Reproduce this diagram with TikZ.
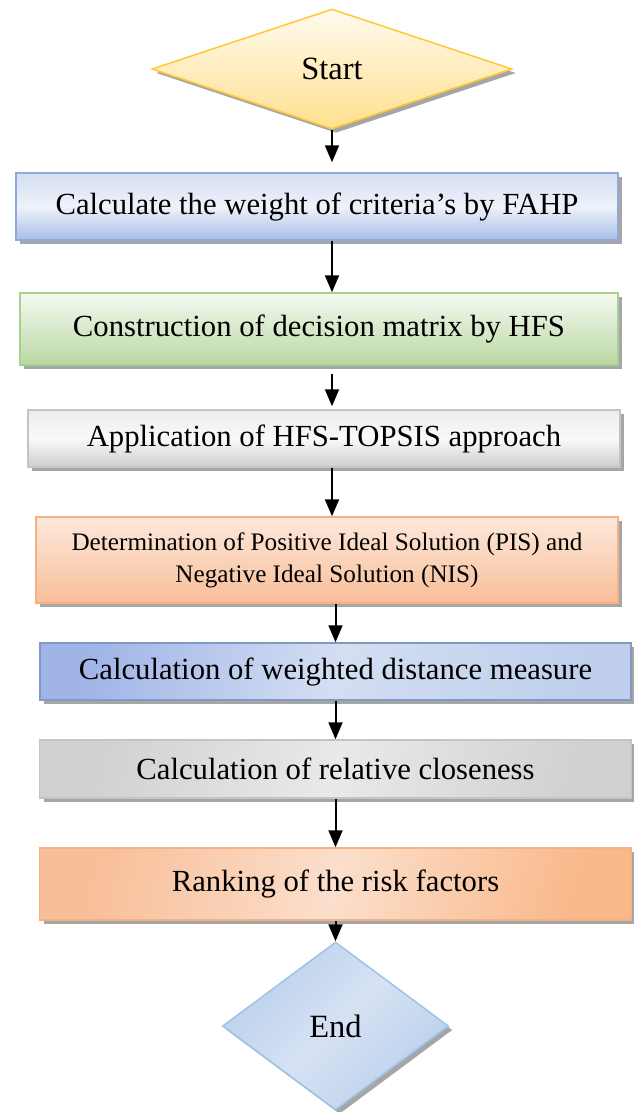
\documentclass[tikz,border=0pt]{standalone}
\usepackage{fontspec}
\setmainfont{Liberation Serif}
\usepackage{tikz}
\usetikzlibrary{positioning, shapes.geometric, shadows, arrows.meta}

\definecolor{startfill}{HTML}{FFE08F}
\definecolor{startline}{HTML}{FFC935}
\definecolor{bluefill}{HTML}{A9BEE6}
\definecolor{blueline}{HTML}{8EAADB}
\definecolor{greenfill}{HTML}{BAD8A3}
\definecolor{greenline}{HTML}{A9D18E}
\definecolor{greyfill}{HTML}{C8C8C8}
\definecolor{greyline}{HTML}{C4C4C4}
\definecolor{orangefill}{HTML}{F8BE98}
\definecolor{orangeline}{HTML}{F4B183}
\definecolor{endfill}{HTML}{BBCFEC}
\definecolor{endline}{HTML}{9DC3E6}

\begin{document}
\begin{tikzpicture}[->,>={Triangle[width=14pt,length=17pt]},line width=2pt,x=1pt,y=-1pt]
                \tikzstyle{stepbox}=[rectangle,draw,line width=1.5pt,inner sep=0pt,text=black,
                    font=\fontsize{30.7}{34}\selectfont,
                    drop shadow={shadow xshift=4pt,shadow yshift=-4pt,fill=black,opacity=0.35}]
                \tikzstyle{terminal}=[diamond,draw,line width=1.5pt,inner sep=0pt,text=black,
                    font=\fontsize{32.5}{36}\selectfont,
                    drop shadow={shadow xshift=4pt,shadow yshift=-4pt,fill=black,opacity=0.35}]
                \useasboundingbox (0,0) rectangle (633,1112);

                \node[terminal,draw=startline,top color=startfill!15,bottom color=startfill,
                      minimum width=360pt,minimum height=120pt]                   (start) at (332,69)      {Start};
                \node[stepbox,draw=blueline,top color=bluefill!50,bottom color=bluefill,middle color=bluefill!20,
                      minimum width=602pt,minimum height=67pt]                    (fahp)  [below=42.5pt of start,xshift=-15pt] {Calculate the weight of criteria’s by FAHP};
                \node[stepbox,draw=greenline,top color=greenfill!15,bottom color=greenfill,
                      minimum width=598pt,minimum height=72pt]                    (hfs)   [below=51.5pt of fahp,xshift=2pt]    {Construction of decision matrix by HFS};
                \node[stepbox,draw=greyline,top color=greyfill!35,bottom color=greyfill!90,middle color=greyfill!10,
                      minimum width=592pt,minimum height=57pt]                    (topsis)[below=43.5pt of hfs,xshift=5pt]     {Application of HFS-TOPSIS approach};
                \node[stepbox,draw=orangeline,top color=orangefill!35,bottom color=orangefill,
                      minimum width=582pt,minimum height=86pt,align=center,
                      font=\fontsize{25.2}{32}\selectfont]                        (ideal) [below=48.5pt of topsis,xshift=3pt]  {Determination of Positive Ideal Solution (PIS) and\\Negative Ideal Solution (NIS)};
                \node[stepbox,draw=blueline!90!black,left color=bluefill!95!blue,right color=bluefill!75,middle color=bluefill!50,shading angle=75,
                      minimum width=591pt,minimum height=57pt]                    (dist)  [below=38.5pt of ideal,xshift=8.5pt] {Calculation of weighted distance measure};
                \node[stepbox,draw=greyline,left color=greyfill!85,right color=greyfill!85,middle color=greyfill!40,shading angle=75,
                      minimum width=592pt,minimum height=58pt]                    (close) [below=38.5pt of dist]               {Calculation of relative closeness};
                \node[stepbox,draw=orangeline,left color=orangefill,right color=orangefill!90!orange,middle color=orangefill!50,shading angle=75,
                      minimum width=592pt,minimum height=72pt]                    (rank)  [below=48.5pt of close]              {Ranking of the risk factors};
                \node[terminal,draw=endline,left color=endfill,right color=endfill,middle color=endfill!60,shading angle=45,
                      minimum width=226pt,minimum height=168pt]                   (end)   [below=20.5pt of rank]               {End};

                \path
                (start)                 edge[shorten >=10pt]                 (start |- fahp.north)
                (fahp.south -| start)   edge                                 (start |- hfs.north)
                (hfs.south -| start)    edge[shorten <=8pt,shorten >=3pt]    (start |- topsis.north)
                (topsis.south -| start) edge                                 (start |- ideal.north)
                (ideal.south -| end)    edge                                 (end |- dist.north)
                (dist.south -| end)     edge                                 (end |- close.north)
                (close.south -| end)    edge                                 (end |- rank.north)
                (rank.south -| end)     edge                                 (end);
            \end{tikzpicture}
\end{document}
